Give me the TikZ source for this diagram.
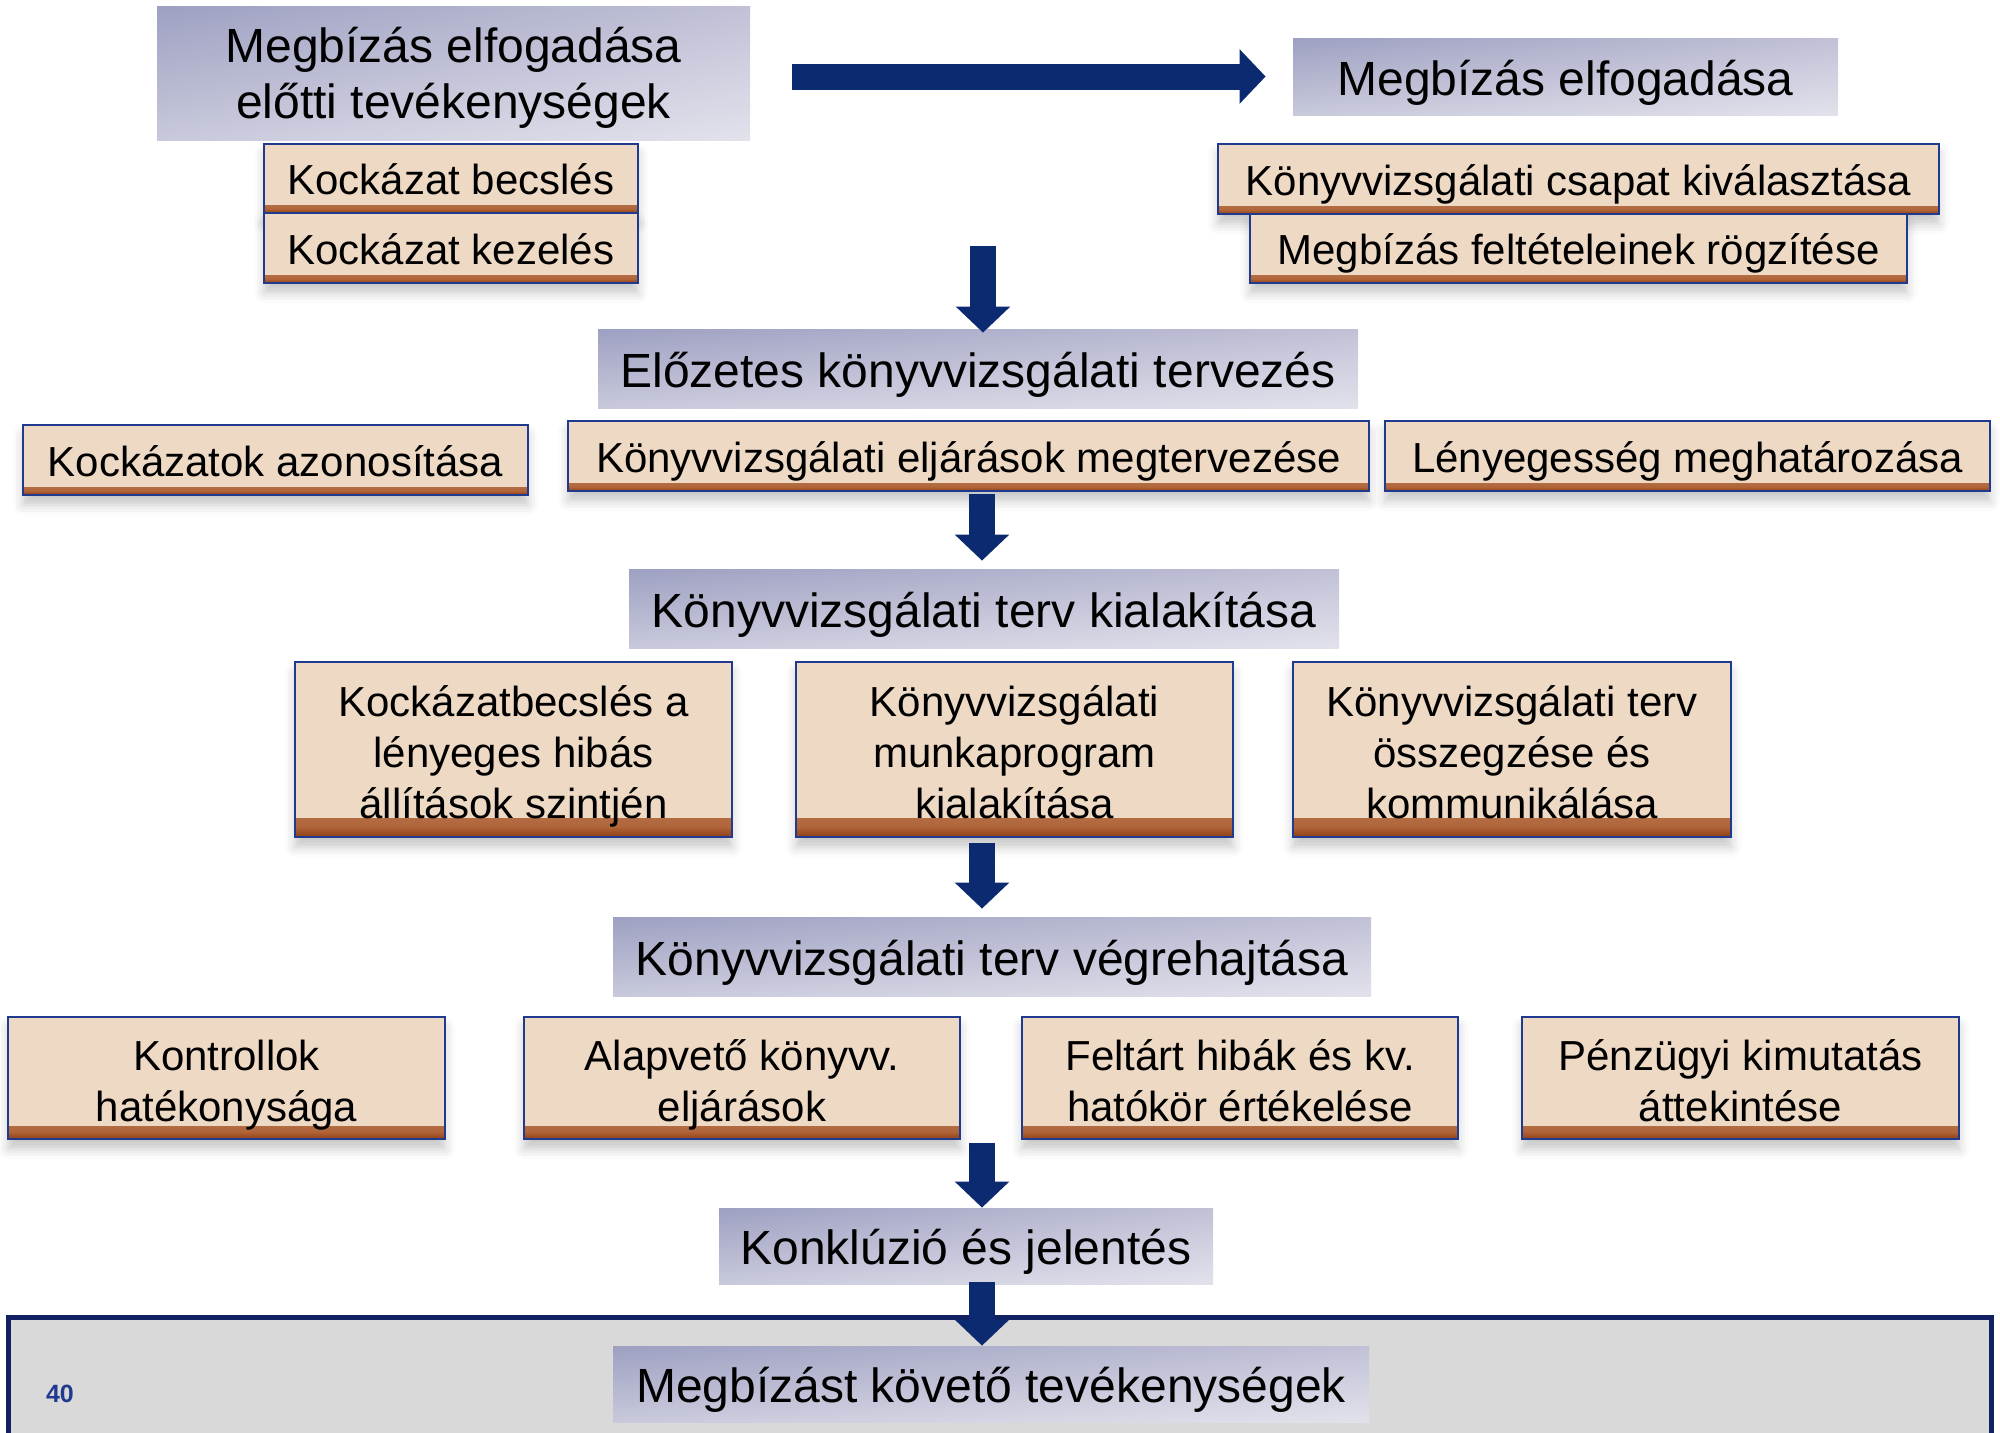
\documentclass[tikz,border=0pt]{standalone}
\usepackage{fontspec}
\setmainfont{Liberation Sans}
\usetikzlibrary{arrows.meta,shadings,shadows.blur,calc}
\definecolor{tanfill}{HTML}{EED9C4}
\definecolor{brownlight}{HTML}{AC5E32}
\definecolor{browndark}{HTML}{8C3E18}
\definecolor{boxblue}{HTML}{1F3A8F}
\definecolor{gUL}{HTML}{9EA0C2}
\definecolor{gUR}{HTML}{C0C1D6}
\definecolor{gLL}{HTML}{C8C9DB}
\definecolor{gLR}{HTML}{E2E2EC}
\definecolor{navyarrow}{HTML}{0B2A6F}
\definecolor{bandgray}{HTML}{D9D9D9}
\definecolor{bandborder}{HTML}{102060}
\definecolor{numblue}{HTML}{1F3A8F}
\newcommand{\tanA}{\rule{0pt}{22.5pt}}
\newcommand{\tanD}{\rule[-4.5pt]{0pt}{4.5pt}}
\newcommand{\grayA}{\rule{0pt}{23pt}}
\newcommand{\grayD}{\rule[-5pt]{0pt}{5pt}}
\tikzset{
 graybox/.style={shade, upper left=gUL, upper right=gUR, lower left=gLL, lower right=gLR,
   inner sep=0pt, align=center, font=\fontsize{24}{28}\selectfont,
   execute at begin node={\rule[-5.5pt]{0pt}{29.5pt}},
   execute at end node={\rule[-5.5pt]{0pt}{5.5pt}}},
 tanbox/.style={draw=boxblue, line width=0.9pt, fill=tanfill, inner sep=0pt, align=center,
   font=\fontsize{21}{25.5}\selectfont,
   execute at begin node={\rule[-5pt]{0pt}{26pt}},
   execute at end node={\rule[-5pt]{0pt}{5pt}},
   blur shadow={shadow xshift=0pt, shadow yshift=-5pt, shadow blur radius=5pt, shadow opacity=22},
   path picture={
     \shade[top color=tanfill, bottom color=brownlight]
       ($(path picture bounding box.south west)!0.105!(path picture bounding box.north west)$) rectangle
       ($(path picture bounding box.south east)!0.05!(path picture bounding box.north east)$);
     \shade[top color=brownlight, bottom color=browndark]
       (path picture bounding box.south west) rectangle
       ($(path picture bounding box.south east)!0.05!(path picture bounding box.north east)$);
   }},
 blockarrow/.style={draw=navyarrow, line width=13pt, -{Triangle[length=13pt,width=26.5pt]}},
}
\begin{document}
\begin{tikzpicture}[x=0.5pt,y=-0.5pt]
\useasboundingbox (0,0) rectangle (2000,1432);
\clip (0,0) rectangle (2000,1432);

% bottom band
\draw[bandborder, line width=2.5pt, fill=bandgray] (8,1317) rectangle (1991,1500);
\node[font=\bfseries\fontsize{12.5}{15}\selectfont, text=numblue] (num) at (60,1394) {40};

% top row
\node[graybox, minimum width=296.5pt, minimum height=67pt] (pre) at (453.5,73)
  {\grayA Megbízás elfogadása\\előtti tevékenységek\grayD};
\node[graybox, minimum width=272.5pt, minimum height=38.5pt] (acc) at (1565.5,76.5)
  {Megbízás elfogadása};
\node[tanbox, minimum width=187pt, minimum height=34.5pt] (becs) at (451,178.5) {Kockázat becslés};
\node[tanbox, minimum width=187pt, minimum height=35pt] (kez) at (451,248) {Kockázat kezelés};
\node[tanbox, minimum width=360.5pt, minimum height=35pt] (csap) at (1578.5,179)
  {Könyvvizsgálati csapat kiválasztása};
\node[tanbox, minimum width=328.5pt, minimum height=34.5pt] (felt) at (1578.5,248.5)
  {Megbízás feltételeinek rögzítése};

% planning
\node[graybox, minimum width=380pt, minimum height=39.5pt] (elo) at (978,368.5)
  {Előzetes könyvvizsgálati tervezés};
\node[tanbox, minimum width=252.5pt, minimum height=35pt] (azon) at (275.5,460)
  {Kockázatok azonosítása};
\node[tanbox, minimum width=400.5pt, minimum height=35pt] (elj) at (968.5,456)
  {Könyvvizsgálati eljárások megtervezése};
\node[tanbox, minimum width=302.5pt, minimum height=35pt] (leny) at (1687.5,456)
  {Lényegesség meghatározása};

% plan
\node[graybox, minimum width=355pt, minimum height=39.5pt] (kial) at (984,608.5)
  {Könyvvizsgálati terv kialakítása};
\node[tanbox, minimum width=218.5pt, minimum height=87.5pt] (kb) at (513.5,749.5)
  {\tanA Kockázatbecslés a\\lényeges hibás\\állítások szintjén\tanD};
\node[tanbox, minimum width=218.5pt, minimum height=87.5pt] (mp) at (1014.5,749.5)
  {\tanA Könyvvizsgálati\\munkaprogram\\kialakítása\tanD};
\node[tanbox, minimum width=219pt, minimum height=87.5pt] (ossz) at (1512,749.5)
  {\tanA Könyvvizsgálati terv\\összegzése és\\kommunikálása\tanD};

% execution
\node[graybox, minimum width=379pt, minimum height=39.5pt] (vegr) at (992,956.5)
  {Könyvvizsgálati terv végrehajtása};
\node[tanbox, minimum width=218.5pt, minimum height=61pt] (kontr) at (226.5,1078)
  {\tanA Kontrollok\\hatékonysága\tanD};
\node[tanbox, minimum width=218pt, minimum height=61pt] (alap) at (742,1078)
  {\tanA Alapvető könyvv.\\eljárások\tanD};
\node[tanbox, minimum width=218pt, minimum height=61pt] (feltart) at (1240,1078)
  {\tanA Feltárt hibák és kv.\\hatókör értékelése\tanD};
\node[tanbox, minimum width=218.5pt, minimum height=61pt] (penz) at (1740.5,1078)
  {\tanA Pénzügyi kimutatás\\áttekintése\tanD};

% conclusion
\node[graybox, minimum width=247pt, minimum height=38pt] (konk) at (966,1246)
  {Konklúzió és jelentés};
\node[graybox, minimum width=378pt, minimum height=38pt] (kov) at (991,1384)
  {Megbízást követő tevékenységek};

% arrows
\coordinate (colx) at (982,0);
\coordinate (a1s) at (983,246);
\draw[blockarrow, shorten <=21pt, shorten >=13.5pt] (pre.east |- acc.west) -- (acc.west);
\draw[blockarrow, shorten >=-2pt] (a1s) -- (a1s |- elo.north);
\draw[blockarrow, shorten <=1pt, shorten >=4pt] (colx |- elj.south) -- (colx |- kial.north);
\draw[blockarrow, shorten <=2.5pt, shorten >=4pt] (colx |- mp.south) -- (colx |- vegr.north);
\draw[blockarrow, shorten <=1.5pt, shorten >=0pt] (colx |- alap.south) -- (colx |- konk.north);
\draw[blockarrow, shorten <=-1pt, shorten >=0pt] (colx |- konk.south) -- (colx |- kov.north);
\end{tikzpicture}
\end{document}
